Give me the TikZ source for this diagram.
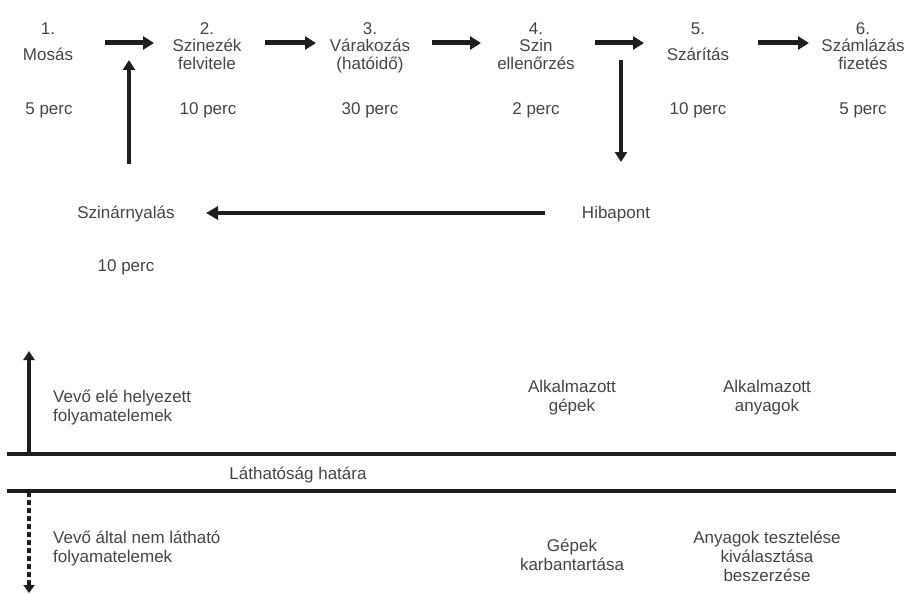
\documentclass[tikz,border=0pt]{standalone}
\usepackage{fontspec}
\setmainfont{Liberation Sans}
\usetikzlibrary{arrows.meta}
\definecolor{txt}{HTML}{454545}
\definecolor{ink}{HTML}{1E1E1E}
\newcommand{\lblfont}{\fontsize{17}{19}\selectfont}
\begin{document}
\begin{tikzpicture}[x=1pt,y=-1pt,
  lbl/.style={text=txt, font=\lblfont, inner sep=0pt, anchor=base},
  flow/.style={draw=ink, line width=5pt, -{Triangle[length=11pt,width=13pt]}},
  vflow/.style={draw=ink, line width=4.5pt, -{Triangle[length=10pt,width=12pt]}},
  backflow/.style={draw=ink, line width=4.5pt, -{Triangle[length=12pt,width=13pt]}},
  border/.style={draw=ink, line width=4pt},
  side/.style={draw=ink, line width=3.5pt, -{Triangle[length=9pt,width=11pt]}},
  sidedash/.style={draw=ink, line width=4pt, dash pattern=on 5pt off 3pt, -{Triangle[length=8pt,width=11pt]}}]
\useasboundingbox (0,0) rectangle (911,594);
% top row
\node[lbl] (n1) at (48,35) {1.};
\node[lbl] (s1) at (48,61) {Mosás};
\node[lbl] (t1) at (49,114) {5 perc};
\node[lbl] (n2) at (207,35) {2.};
\node[lbl] (s2a) at (207,52) {Szinezék};
\node[lbl] (s2b) at (207,70) {felvitele};
\node[lbl] (t2) at (208,114) {10 perc};
\node[lbl] (n3) at (370,35) {3.};
\node[lbl] (s3a) at (370,52) {Várakozás};
\node[lbl] (s3b) at (370,70) {(hatóidő)};
\node[lbl] (t3) at (370,114) {30 perc};
\node[lbl] (n4) at (536,35) {4.};
\node[lbl] (s4a) at (536,52) {Szin};
\node[lbl] (s4b) at (536,70) {ellenőrzés};
\node[lbl] (t4) at (536,114) {2 perc};
\node[lbl] (n5) at (698,35) {5.};
\node[lbl] (s5) at (698,61) {Szárítás};
\node[lbl] (t5) at (698,114) {10 perc};
\node[lbl] (n6) at (863,35) {6.};
\node[lbl] (s6a) at (863,52) {Számlázás};
\node[lbl] (s6b) at (863,70) {fizetés};
\node[lbl] (t6) at (863,114) {5 perc};
% second row
\node[lbl] (sz) at (126,218) {Szinárnyalás};
\node[lbl] (szt) at (126,271) {10 perc};
\node[lbl] (hp) at (616,218) {Hibapont};
% arrow end points
\coordinate (a1s) at (105,43); \coordinate (a1e) at (154,43);
\coordinate (a2s) at (265,43); \coordinate (a2e) at (316,43);
\coordinate (a3s) at (432,43); \coordinate (a3e) at (481,43);
\coordinate (a4s) at (595,43); \coordinate (a4e) at (644,43);
\coordinate (a5s) at (758,43); \coordinate (a5e) at (809,43);
\coordinate (ups) at (129,164); \coordinate (upe) at (129,60);
\coordinate (dns) at (621,60); \coordinate (dne) at (621,162);
\coordinate (bks) at (545,213); \coordinate (bke) at (206,213);
\draw[flow] (a1s) -- (a1e);
\draw[flow] (a2s) -- (a2e);
\draw[flow] (a3s) -- (a3e);
\draw[flow] (a4s) -- (a4e);
\draw[flow] (a5s) -- (a5e);
\draw[vflow] (ups) -- (upe);
\draw[vflow] (dns) -- (dne);
\draw[backflow] (bks) -- (bke);
% visibility band
\coordinate (l1a) at (7,454); \coordinate (l1b) at (896,454);
\coordinate (l2a) at (7,491); \coordinate (l2b) at (896,491);
\draw[border] (l1a) -- (l1b);
\draw[border] (l2a) -- (l2b);
\node[lbl] (lh) at (298,479) {Láthatóság határa};
\coordinate (vup) at (29,351); \coordinate (vdn) at (29,593);
\draw[side] (29,456) -- (vup);
\draw[sidedash] (29,492) -- (vdn);
\node[lbl, anchor=base west] (v1a) at (53,402) {Vevő elé helyezett};
\node[lbl, anchor=base west] (v1b) at (53,421) {folyamatelemek};
\node[lbl, anchor=base west] (v2a) at (53,543) {Vevő által nem látható};
\node[lbl, anchor=base west] (v2b) at (53,562) {folyamatelemek};
\node[lbl] (g1a) at (572,392) {Alkalmazott};
\node[lbl] (g1b) at (572,411) {gépek};
\node[lbl] (m1a) at (767,392) {Alkalmazott};
\node[lbl] (m1b) at (767,411) {anyagok};
\node[lbl] (g2a) at (572,551) {Gépek};
\node[lbl] (g2b) at (572,570) {karbantartása};
\node[lbl] (m2a) at (767,543) {Anyagok tesztelése};
\node[lbl] (m2b) at (767,562) {kiválasztása};
\node[lbl] (m2c) at (767,581) {beszerzése};
\end{tikzpicture}
\end{document}
